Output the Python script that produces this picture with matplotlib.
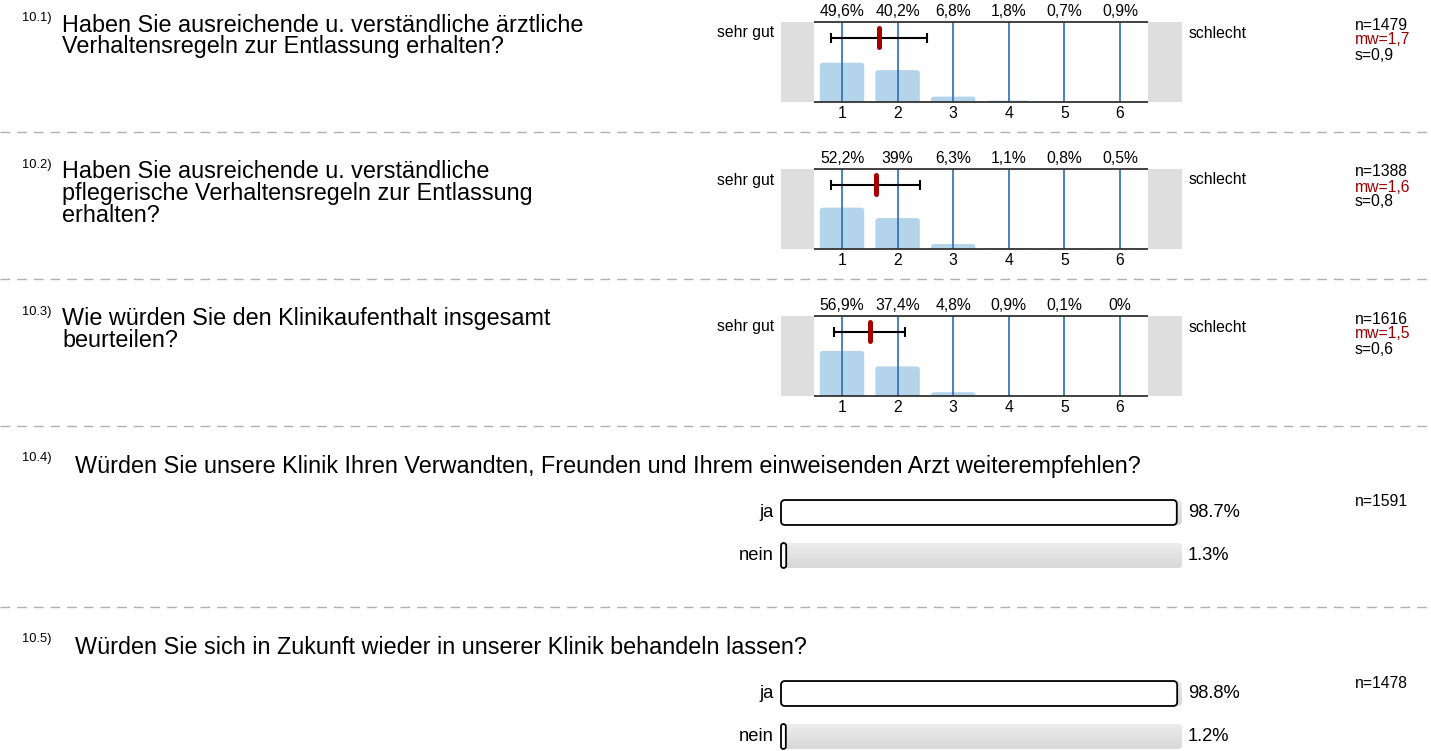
import numpy as np
import matplotlib.pyplot as plt
from matplotlib.patches import FancyBboxPatch
from matplotlib.colors import LinearSegmentedColormap

plt.rcParams['font.family'] = ['Liberation Sans', 'DejaVu Sans']

# ---- data ----
hist_numbers = ["10.1)", "10.2)", "10.3)"]
hist_questions = [
    "Haben Sie ausreichende u. verständliche ärztliche\nVerhaltensregeln zur Entlassung erhalten?",
    "Haben Sie ausreichende u. verständliche\npflegerische Verhaltensregeln zur Entlassung\nerhalten?",
    "Wie würden Sie den Klinikaufenthalt insgesamt\nbeurteilen?",
]
categories = [1, 2, 3, 4, 5, 6]
hist_pcts = [
    [49.6, 40.2, 6.8, 1.8, 0.7, 0.9],
    [52.2, 39.0, 6.3, 1.1, 0.8, 0.5],
    [56.9, 37.4, 4.8, 0.9, 0.1, 0.0],
]
hist_n = [1479, 1388, 1616]
hist_mean = [1.67, 1.61, 1.50]
hist_sd = [0.86, 0.80, 0.64]

yn_numbers = ["10.4)", "10.5)"]
yn_questions = [
    "Würden Sie unsere Klinik Ihren Verwandten, Freunden und Ihrem einweisenden Arzt weiterempfehlen?",
    "Würden Sie sich in Zukunft wieder in unserer Klinik behandeln lassen?",
]
yn_labels = ["ja", "nein"]
yn_pcts = [[98.7, 1.3], [98.8, 1.2]]
yn_n = [1591, 1478]

W, H = 1431, 751
fig = plt.figure(figsize=(W / 100, H / 100), dpi=100)

bg = fig.add_axes([0, 0, 1, 1])
bg.set_xlim(0, W)
bg.set_ylim(H, 0)
bg.axis("off")


def px_axes(x0, y0, x1, y1):
    return fig.add_axes([x0 / W, 1 - y1 / H, (x1 - x0) / W, (y1 - y0) / H])


def de(v):
    return f"{v:g}".replace(".", ",")


small = 11.3
mid = 13.2
qsize = 16.8
nsize = 9.3
bar_blue = "#b4d4ec"
line_blue = "#2a6db5"
red = "#a50000"
grad = LinearSegmentedColormap.from_list("g", ["#ececec", "#d8d8d8"])

# separators
for y in [132, 279, 426, 607]:
    bg.plot([0, W], [y, y], color="#b0b0b0", lw=1, dashes=(7, 5))

# ---- histogram questions ----
for i in range(3):
    y0 = 147 * i
    bg.text(22, y0 + 18, hist_numbers[i], fontsize=nsize, va="center")
    for j, line in enumerate(hist_questions[i].split("\n")):
        bg.text(62, y0 + 25 + 21.8 * j, line, fontsize=qsize, va="center")
    bg.text(774, y0 + 33, "sehr gut", fontsize=small, ha="right", va="center")
    bg.text(1189, y0 + 33, "schlecht", fontsize=small, ha="left", va="center")
    bg.text(1355, y0 + 25, f"n={hist_n[i]}", fontsize=small, va="center")
    bg.text(1355, y0 + 40, f"mw={de(round(hist_mean[i], 1))}", fontsize=small,
            va="center", color="#990000")
    bg.text(1355, y0 + 55, f"s={de(round(hist_sd[i], 1))}", fontsize=small, va="center")

    ax = px_axes(781, y0 + 22, 1182, y0 + 102)
    xl = 1 + (781 - 842) / 55.6
    xr = 1 + (1182 - 842) / 55.6
    ax.set_xlim(xl, xr)
    ax.set_ylim(0, 101)
    for s in ax.spines.values():
        s.set_visible(False)
    ax.axvspan(xl, 0.5, color="#dedede", lw=0)
    ax.axvspan(6.5, xr, color="#dedede", lw=0)
    for c, p in zip(categories, hist_pcts[i]):
        ax.add_patch(FancyBboxPatch((c - 0.4, -10), 0.8, p + 10,
                                    boxstyle="round,pad=0,rounding_size=0.06",
                                    mutation_aspect=70, fc=bar_blue, ec="none"))
    ax.vlines(categories, 0, 101, color=line_blue, lw=1.2)
    ax.hlines([0, 101], 0.5, 6.5, color="#333333", lw=1.3, clip_on=False)
    ax.errorbar(hist_mean[i], 81, xerr=hist_sd[i], color="black", lw=1.5,
                capsize=3.6, capthick=1.5)
    ax.plot([hist_mean[i], hist_mean[i]], [69, 93], color=red, lw=3.6,
            solid_capstyle="round")
    ax.set_xticks(categories, [str(c) for c in categories])
    ax.tick_params(axis="x", length=0, pad=3, labelsize=small)
    ax.set_yticks([])
    top = ax.secondary_xaxis("top")
    top.set_xticks(categories, [de(p) + "%" for p in hist_pcts[i]])
    top.tick_params(length=0, pad=2, labelsize=small)
    for s in top.spines.values():
        s.set_visible(False)

# ---- yes / no questions ----
for k in range(2):
    y0 = 426 + 181 * k
    bg.text(22, y0 + 32, yn_numbers[k], fontsize=nsize, va="center")
    bg.text(75, y0 + 40, yn_questions[k], fontsize=qsize, va="center")
    bg.text(1355, y0 + 76, f"n={yn_n[k]}", fontsize=small, va="center")

    ax = px_axes(781, y0 + 65, 1182, y0 + 151)
    ax.set_xlim(0, 100)
    ax.set_ylim(1.5, -0.5)
    ax.axis("off")
    for r, (lab, p) in enumerate(zip(yn_labels, yn_pcts[k])):
        back = FancyBboxPatch((0, r - 0.29), 100, 0.58,
                              boxstyle="round,pad=0,rounding_size=1.0",
                              mutation_aspect=0.093, fc="none", ec="none")
        ax.add_patch(back)
        im = ax.imshow(np.linspace(0, 1, 50).reshape(-1, 1), cmap=grad, aspect="auto",
                       extent=(0, 100, r + 0.29, r - 0.29), zorder=1)
        im.set_clip_path(back)
        rs = min(1.0, p / 2)
        ax.add_patch(FancyBboxPatch((0, r - 0.29), p, 0.58,
                                    boxstyle=f"round,pad=0,rounding_size={rs}",
                                    mutation_aspect=0.093, fc="white", ec="black",
                                    lw=1.3, clip_on=False, zorder=2))
        bg.text(774, y0 + 86.5 + 43 * r, lab, fontsize=mid, ha="right", va="center")
        bg.text(1188, y0 + 86.5 + 43 * r, f"{p}%", fontsize=mid, ha="left", va="center")
    ax.set_xlim(0, 100)
    ax.set_ylim(1.5, -0.5)

fig.savefig("out.png", dpi=100)
